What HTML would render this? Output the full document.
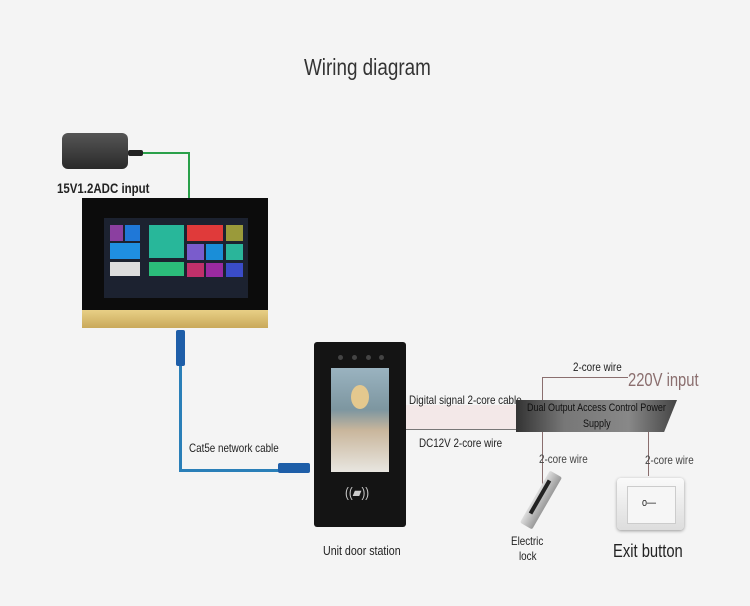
<!DOCTYPE html>
<html><head><meta charset="utf-8"><style>
body{margin:0;width:750px;height:606px;background:#f4f4f4;position:relative;overflow:hidden;font-family:"Liberation Sans",sans-serif;color:#222}
.a{position:absolute}
.t{position:absolute;white-space:nowrap;font-size:12px;transform-origin:0 0;transform:scaleX(.82)}
</style></head><body>
<div class="t" style="left:304px;top:54px;font-size:23px;color:#333">Wiring diagram</div>

<!-- adapter -->
<div class="a" style="left:62px;top:133px;width:66px;height:36px;background:linear-gradient(#555,#2a2a2a);border-radius:6px"></div>
<div class="a" style="left:128px;top:150px;width:15px;height:6px;background:#222;border-radius:2px"></div>
<div class="a" style="left:143px;top:152px;width:47px;height:2px;background:#2aa04a"></div>
<div class="a" style="left:188px;top:152px;width:2px;height:46px;background:#2aa04a"></div>
<div class="t" style="left:57px;top:180px;font-size:14px;font-weight:bold">15V1.2ADC input</div>

<!-- monitor -->
<div class="a" style="left:82px;top:198px;width:186px;height:112px;background:#0c0c0c"></div>
<div class="a" style="left:82px;top:310px;width:186px;height:18px;background:linear-gradient(#e8cf86,#c9a95a)"></div>
<div class="a" style="left:104px;top:218px;width:144px;height:80px;background:#1c2230"></div>
<div class="a" style="left:110px;top:225px;width:13px;height:16px;background:#8b3fa0"></div>
<div class="a" style="left:125px;top:225px;width:15px;height:16px;background:#1f78d8"></div>
<div class="a" style="left:110px;top:243px;width:30px;height:16px;background:#1f8fe0"></div>
<div class="a" style="left:110px;top:262px;width:30px;height:14px;background:#ddd"></div>
<div class="a" style="left:149px;top:225px;width:35px;height:33px;background:#28b79a"></div>
<div class="a" style="left:149px;top:262px;width:35px;height:14px;background:#2bbd7a"></div>
<div class="a" style="left:187px;top:225px;width:36px;height:16px;background:#e03a3a"></div>
<div class="a" style="left:226px;top:225px;width:17px;height:16px;background:#9a9a3a"></div>
<div class="a" style="left:187px;top:244px;width:17px;height:16px;background:#7a5ccc"></div>
<div class="a" style="left:206px;top:244px;width:17px;height:16px;background:#1a8ed8"></div>
<div class="a" style="left:226px;top:244px;width:17px;height:16px;background:#2ab59a"></div>
<div class="a" style="left:187px;top:263px;width:17px;height:14px;background:#c0306a"></div>
<div class="a" style="left:206px;top:263px;width:17px;height:14px;background:#9a2aa0"></div>
<div class="a" style="left:226px;top:263px;width:17px;height:14px;background:#3a4cc8"></div>

<!-- blue cable -->
<div class="a" style="left:176px;top:330px;width:9px;height:36px;background:#1e5ea8;border-radius:2px"></div>
<div class="a" style="left:179px;top:366px;width:3px;height:106px;background:#2a7fb8"></div>
<div class="a" style="left:179px;top:469px;width:100px;height:3px;background:#2a7fb8"></div>
<div class="a" style="left:278px;top:463px;width:32px;height:10px;background:#1e5ea8;border-radius:2px"></div>
<div class="t" style="left:189px;top:441px">Cat5e network cable</div>

<!-- door station -->
<div class="a" style="left:314px;top:342px;width:92px;height:185px;background:#141414;border-radius:3px"></div>
<div class="a" style="left:338px;top:355px;width:5px;height:5px;border-radius:50%;background:#444"></div>
<div class="a" style="left:352px;top:355px;width:5px;height:5px;border-radius:50%;background:#444"></div>
<div class="a" style="left:366px;top:355px;width:5px;height:5px;border-radius:50%;background:#444"></div>
<div class="a" style="left:379px;top:355px;width:5px;height:5px;border-radius:50%;background:#444"></div>
<div class="a" style="left:331px;top:368px;width:58px;height:104px;background:linear-gradient(#9ab3c0,#7d96a0 40%,#c9b69c 60%,#e8e6e0)"></div>
<div class="a" style="left:351px;top:385px;width:18px;height:24px;border-radius:50%;background:#e4c88e"></div>
<div class="t" style="left:345px;top:484px;color:#ccc;font-size:14px">((▰))</div>
<div class="t" style="left:323px;top:543px;font-size:13px">Unit door station</div>

<!-- signal lines -->
<div class="a" style="left:406px;top:405px;width:110px;height:25px;background:#f3e8e8"></div>
<div class="a" style="left:406px;top:429px;width:112px;height:1px;background:#777"></div>
<div class="t" style="left:409px;top:393px">Digital signal 2-core cable</div>
<div class="t" style="left:419px;top:436px">DC12V 2-core wire</div>

<!-- power supply -->
<div class="a" style="left:542px;top:377px;width:1px;height:113px;background:#8a6e6e"></div>
<div class="a" style="left:542px;top:377px;width:86px;height:1px;background:#8a6e6e"></div>
<div class="a" style="left:648px;top:430px;width:1px;height:46px;background:#8a6e6e"></div>
<div class="a" style="left:516px;top:400px;width:161px;height:32px;background:linear-gradient(90deg,#333,#777 30%,#888 70%,#444);clip-path:polygon(0 0,100% 0,92% 100%,0 100%)"></div>
<div class="t" style="left:527px;top:402px;font-size:11px;color:#111">Dual Output Access Control Power</div>
<div class="t" style="left:583px;top:418px;font-size:11px;color:#111">Supply</div>
<div class="t" style="left:573px;top:360px">2-core wire</div>
<div class="t" style="left:628px;top:370px;font-size:18px;color:#8a6e6e">220V input</div>
<div class="t" style="left:539px;top:452px;color:#444">2-core wire</div>
<div class="t" style="left:645px;top:453px;color:#444">2-core wire</div>

<!-- lock -->
<div class="a" style="left:534px;top:470px;width:14px;height:60px;background:linear-gradient(90deg,#ddd,#999);transform:rotate(30deg);border-radius:2px"></div>
<div class="a" style="left:538px;top:478px;width:4px;height:38px;background:#222;transform:rotate(30deg)"></div>
<div class="t" style="left:511px;top:534px">Electric</div>
<div class="t" style="left:519px;top:549px">lock</div>

<!-- exit button -->
<div class="a" style="left:617px;top:478px;width:67px;height:52px;background:linear-gradient(#fafafa,#ddd);border-radius:4px;box-shadow:0 1px 3px #999"></div>
<div class="a" style="left:627px;top:486px;width:47px;height:36px;background:#f6f6f6;border:1px solid #ccc"></div>
<div class="t" style="left:642px;top:497px;font-size:11px">o—</div>
<div class="t" style="left:613px;top:541px;font-size:18px">Exit button</div>
</body></html>
